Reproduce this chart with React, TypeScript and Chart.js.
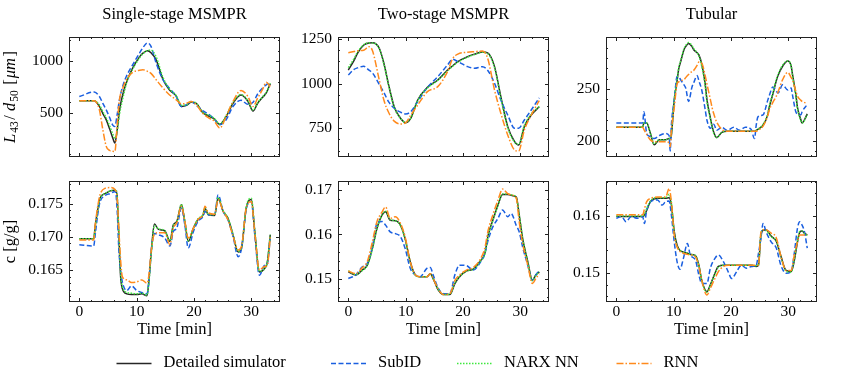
import React, { useEffect, useRef } from "react";
import { Chart, registerables } from "chart.js";

Chart.register(...registerables);

// ---------------- data ----------------
const seriesNames = ["Detailed simulator", "SubID", "NARX NN", "RNN"];
const panelTitles = ["Single-stage MSMPR", "Two-stage MSMPR", "Tubular"];
const xAxisLabel = "Time [min]";
const xTicks = [0, 10, 20, 30];

// Single-stage MSMPR, L43/d50
const t1 = [0, 2.6, 3.5, 4.1, 4.7, 5.3, 5.8, 6.2, 6.6, 7.0, 7.6, 8.2, 9.3, 10.5, 11.1, 11.9, 12.5, 13.4, 14.6, 15.7, 16.9, 17.8, 18.7, 19.5, 20.4, 21.5, 22.7, 23.5, 24.5, 25.6, 26.8, 28.2, 29.4, 30.3, 31.1, 32.0, 32.6, 33.3];
const p1Sim = [615, 615, 560, 490, 430, 340, 260, 205, 330, 520, 680, 790, 930, 1040, 1076, 1100, 1080, 1010, 820, 720, 660, 560, 570, 600, 590, 500, 462, 440, 385, 460, 590, 670, 610, 515, 590, 650, 690, 780];
const p1SubID = [655, 700, 656, 590, 527, 450, 382, 366, 480, 624, 760, 850, 963, 1076, 1130, 1175, 1141, 979, 818, 737, 656, 559, 576, 608, 570, 520, 479, 440, 382, 430, 559, 620, 580, 600, 680, 740, 769, 800];
const p1NARX = [615, 615, 575, 510, 450, 370, 300, 250, 320, 480, 640, 780, 920, 1030, 1070, 1100, 1105, 1040, 840, 730, 665, 570, 575, 605, 590, 505, 470, 445, 390, 470, 600, 675, 615, 525, 595, 655, 695, 785];
const p1RNN = [615, 615, 527, 334, 172, 133, 125, 123, 380, 624, 740, 818, 889, 910, 915, 899, 880, 818, 737, 673, 624, 585, 590, 608, 576, 495, 445, 420, 350, 462, 608, 715, 656, 559, 640, 730, 795, 753];
const p1YTicks = [500, 1000];

// Two-stage MSMPR, L43/d50
const t2 = [0, 1.0, 1.6, 2.7, 3.6, 4.2, 5.4, 6.2, 7.1, 8.0, 9.1, 10.0, 10.9, 12.1, 13.8, 15.6, 17.3, 18.2, 19.1, 20.8, 22.0, 23.4, 24.3, 25.5, 26.6, 27.8, 29.0, 29.7, 30.7, 31.9, 33.3];
const p2Sim = [1076, 1130, 1170, 1216, 1228, 1229, 1198, 1114, 983, 871, 806, 781, 806, 908, 979, 1020, 1076, 1100, 1123, 1151, 1165, 1177, 1172, 1095, 927, 759, 675, 656, 759, 824, 870];
const p2SubID = [1048, 1080, 1088, 1097, 1075, 1060, 995, 950, 895, 862, 840, 830, 843, 899, 979, 1039, 1104, 1136, 1123, 1095, 1086, 1095, 1075, 1002, 908, 824, 750, 750, 796, 852, 920];
const p2NARX = [1090, 1140, 1175, 1218, 1228, 1228, 1195, 1110, 980, 868, 806, 782, 808, 905, 975, 1018, 1072, 1098, 1120, 1148, 1163, 1175, 1168, 1090, 920, 755, 672, 660, 765, 830, 872];
const p2RNN = [1173, 1180, 1184, 1187, 1207, 1185, 1020, 908, 834, 790, 774, 781, 824, 880, 955, 983, 1067, 1140, 1165, 1176, 1179, 1182, 1142, 964, 834, 712, 628, 622, 740, 824, 905];
const p2YTicks = [750, 1000, 1250];

// Tubular, L43/d50
const t3 = [0, 4.6, 4.8, 5.3, 5.9, 6.6, 7.5, 8.6, 9.2, 9.4, 9.6, 10.1, 10.6, 10.9, 11.2, 11.8, 12.1, 12.6, 13.2, 13.5, 14.1, 14.4, 14.9, 15.5, 15.8, 16.4, 16.7, 17.0, 17.5, 18.4, 19.3, 20.5, 21.5, 22.5, 23.5, 24.1, 24.4, 24.7, 25.6, 26.4, 26.7, 27.3, 27.9, 28.2, 29.0, 29.9, 30.5, 30.7, 31.3, 31.6, 32.2, 32.4, 33.3];
const p3Sim = [213, 213, 217, 217, 208, 196, 201, 201, 202, 202, 205, 239, 258, 270, 276, 288, 291, 294, 291, 288, 285, 283, 274, 255, 240, 222, 214, 208, 203, 208, 209, 209, 209, 209, 209, 209, 210, 211, 215, 225, 233, 245, 258, 263, 272, 277, 272, 265, 245, 232, 220, 217, 226];
const p3SubID = [217, 217, 228, 207, 204, 202, 205, 207, 205, 190, 215, 239, 262, 262, 259, 254, 251, 238, 252, 256, 263, 258, 249, 230, 220, 212, 214, 216, 210, 213, 210, 213, 210, 213, 211, 202, 215, 223, 225, 239, 244, 252, 248, 246, 254, 249, 251, 245, 228, 226, 225, 228, 235];
const p3NARX = [213, 213, 217, 217, 208, 197, 201, 201, 202, 203, 206, 240, 259, 271, 277, 289, 292, 295, 292, 289, 285, 282, 272, 253, 238, 221, 213, 207, 203, 208, 209, 209, 209, 209, 209, 209, 210, 211, 216, 226, 234, 246, 259, 264, 273, 277, 272, 264, 244, 231, 219, 217, 225];
const p3RNN = [213, 213, 211, 206, 201, 199, 199, 199, 198, 194, 210, 232, 255, 257, 258, 259, 261, 264, 267, 268, 273, 276, 275, 263, 255, 240, 232, 226, 218, 211, 209, 209, 209, 209, 209, 209, 209, 210, 214, 224, 230, 237, 243, 247, 259, 266, 261, 259, 248, 243, 239, 238, 236];
const p3YTicks = [200, 250];

// Single-stage MSMPR, concentration
const t4 = [0, 2.5, 2.8, 3.2, 3.6, 4.5, 5.4, 6.3, 6.6, 6.9, 7.2, 7.5, 8.3, 9.1, 10.0, 10.9, 11.8, 12.1, 12.6, 13.1, 13.8, 14.9, 15.8, 16.4, 17.0, 17.8, 18.4, 19.0, 19.9, 20.7, 21.6, 21.9, 22.5, 23.6, 24.2, 25.1, 25.9, 26.8, 27.7, 28.3, 29.1, 30.0, 30.6, 31.4, 32.3, 32.8, 33.3];
const p4Sim = [0.1697, 0.1697, 0.1718, 0.1740, 0.1758, 0.1765, 0.1769, 0.1770, 0.1760, 0.1700, 0.1640, 0.1622, 0.1614, 0.1613, 0.1613, 0.1614, 0.1611, 0.1630, 0.1683, 0.1719, 0.1711, 0.1709, 0.1693, 0.1718, 0.1723, 0.1748, 0.1723, 0.1693, 0.1713, 0.1726, 0.1733, 0.1743, 0.1733, 0.1732, 0.1758, 0.1738, 0.1728, 0.1703, 0.1677, 0.1683, 0.1743, 0.1756, 0.1708, 0.1647, 0.1652, 0.1662, 0.1703];
const p4SubID = [0.1688, 0.1686, 0.1705, 0.1733, 0.1752, 0.1762, 0.1765, 0.1768, 0.1740, 0.1680, 0.1650, 0.1632, 0.1619, 0.1626, 0.1619, 0.1616, 0.1614, 0.1630, 0.1683, 0.1705, 0.1703, 0.1698, 0.1686, 0.1708, 0.1713, 0.1743, 0.1718, 0.1683, 0.1708, 0.1723, 0.1731, 0.1738, 0.1733, 0.1733, 0.1763, 0.1738, 0.1726, 0.1701, 0.1670, 0.1683, 0.1741, 0.1753, 0.1703, 0.1642, 0.1657, 0.1660, 0.1698];
const p4NARX = [0.1697, 0.1697, 0.1716, 0.1738, 0.1757, 0.1765, 0.1769, 0.1771, 0.1762, 0.1705, 0.1645, 0.1625, 0.1616, 0.1615, 0.1614, 0.1615, 0.1612, 0.1628, 0.1680, 0.1717, 0.1712, 0.1709, 0.1694, 0.1717, 0.1722, 0.1749, 0.1724, 0.1694, 0.1713, 0.1727, 0.1734, 0.1744, 0.1734, 0.1733, 0.1759, 0.1739, 0.1729, 0.1704, 0.1678, 0.1684, 0.1744, 0.1758, 0.1710, 0.1648, 0.1652, 0.1663, 0.1703];
const p4RNN = [0.1695, 0.1695, 0.1720, 0.1745, 0.1763, 0.1773, 0.1774, 0.1770, 0.1758, 0.1710, 0.1665, 0.1640, 0.1635, 0.1631, 0.1632, 0.1635, 0.1630, 0.1640, 0.1683, 0.1704, 0.1706, 0.1706, 0.1688, 0.1713, 0.1721, 0.1746, 0.1723, 0.1698, 0.1713, 0.1726, 0.1734, 0.1746, 0.1736, 0.1734, 0.1756, 0.1738, 0.1726, 0.1701, 0.1680, 0.1686, 0.1743, 0.1753, 0.1706, 0.1650, 0.1655, 0.1657, 0.1700];
const p4YTicks = [0.165, 0.17, 0.175];

// Two-stage MSMPR, concentration
const t5 = [0, 1.3, 2.4, 3.3, 4.2, 5.0, 5.9, 6.5, 7.3, 8.2, 9.1, 9.9, 10.8, 11.7, 12.5, 13.7, 14.3, 14.8, 15.7, 16.6, 17.7, 18.6, 19.4, 20.6, 21.8, 22.9, 23.8, 24.4, 25.2, 26.1, 26.9, 27.8, 28.4, 29.3, 29.8, 30.4, 31.3, 32.1, 32.7, 33.3];
const p5Sim = [0.1516, 0.1509, 0.1520, 0.1531, 0.1569, 0.1614, 0.1644, 0.1651, 0.1632, 0.1631, 0.1621, 0.1591, 0.1539, 0.1509, 0.1505, 0.1505, 0.1512, 0.1501, 0.1475, 0.1465, 0.1465, 0.1490, 0.1505, 0.1518, 0.1522, 0.1539, 0.1557, 0.1599, 0.1632, 0.1666, 0.1690, 0.1690, 0.1688, 0.1684, 0.1644, 0.1591, 0.1539, 0.1497, 0.1509, 0.1516];
const p5SubID = [0.1501, 0.1509, 0.1527, 0.1535, 0.1572, 0.1625, 0.1629, 0.1621, 0.1606, 0.1602, 0.1595, 0.1569, 0.1524, 0.1509, 0.1505, 0.1524, 0.1526, 0.1509, 0.1479, 0.1467, 0.1467, 0.1510, 0.1531, 0.1530, 0.1520, 0.1535, 0.1557, 0.1588, 0.1617, 0.1636, 0.1655, 0.1640, 0.1647, 0.1620, 0.1606, 0.1572, 0.1531, 0.1497, 0.1509, 0.1520];
const p5NARX = [0.1518, 0.1510, 0.1519, 0.1530, 0.1567, 0.1613, 0.1644, 0.1652, 0.1633, 0.1631, 0.1620, 0.1590, 0.1538, 0.1508, 0.1505, 0.1505, 0.1511, 0.1501, 0.1476, 0.1465, 0.1466, 0.1491, 0.1505, 0.1518, 0.1522, 0.1538, 0.1556, 0.1597, 0.1631, 0.1665, 0.1691, 0.1691, 0.1689, 0.1683, 0.1645, 0.1592, 0.1538, 0.1496, 0.1508, 0.1516];
const p5RNN = [0.1518, 0.1512, 0.1525, 0.1539, 0.1584, 0.1629, 0.1651, 0.1662, 0.1636, 0.1640, 0.1625, 0.1595, 0.1539, 0.1509, 0.1505, 0.1505, 0.1512, 0.1501, 0.1477, 0.1465, 0.1467, 0.1497, 0.1509, 0.1520, 0.1526, 0.1542, 0.1569, 0.1610, 0.1644, 0.1677, 0.1702, 0.1692, 0.1689, 0.1681, 0.1629, 0.1580, 0.1531, 0.1490, 0.1501, 0.1512];
const p5YTicks = [0.15, 0.16, 0.17];

// Tubular, concentration
const t6 = [0, 0.9, 1.7, 2.6, 3.7, 4.6, 4.9, 5.3, 6.0, 7.2, 8.0, 8.6, 9.2, 9.6, 10.1, 10.6, 11.1, 11.7, 12.4, 12.9, 13.8, 14.4, 14.9, 15.8, 16.4, 17.2, 17.8, 18.7, 19.5, 20.1, 21.0, 21.8, 22.7, 23.6, 24.4, 24.8, 25.2, 25.6, 26.1, 27.0, 27.9, 28.7, 29.6, 30.5, 31.0, 31.6, 32.0, 32.4, 32.8, 33.3];
const p6Sim = [0.1599, 0.1599, 0.1599, 0.1599, 0.1599, 0.1599, 0.1601, 0.1610, 0.1626, 0.1631, 0.1631, 0.1631, 0.1632, 0.1620, 0.1573, 0.1549, 0.1540, 0.1537, 0.1535, 0.1533, 0.1531, 0.1514, 0.1488, 0.1468, 0.1480, 0.1500, 0.1512, 0.1514, 0.1514, 0.1514, 0.1514, 0.1514, 0.1514, 0.1514, 0.1512, 0.1514, 0.1565, 0.1575, 0.1576, 0.1565, 0.1556, 0.1530, 0.1505, 0.1503, 0.1520, 0.1555, 0.1572, 0.1574, 0.1570, 0.1567];
const p6SubID = [0.1596, 0.1599, 0.1590, 0.1599, 0.1596, 0.1599, 0.1587, 0.1610, 0.1625, 0.1628, 0.1619, 0.1625, 0.1626, 0.1602, 0.1555, 0.1520, 0.1507, 0.1526, 0.1552, 0.1532, 0.1523, 0.1497, 0.1482, 0.1482, 0.1509, 0.1526, 0.1532, 0.1520, 0.1503, 0.1491, 0.1503, 0.1514, 0.1509, 0.1512, 0.1514, 0.1535, 0.1560, 0.1587, 0.1573, 0.1555, 0.1544, 0.1514, 0.1500, 0.1503, 0.1532, 0.1579, 0.1590, 0.1584, 0.1573, 0.1544];
const p6NARX = [0.1600, 0.1600, 0.1600, 0.1600, 0.1600, 0.1600, 0.1603, 0.1613, 0.1627, 0.1632, 0.1632, 0.1632, 0.1638, 0.1622, 0.1571, 0.1548, 0.1540, 0.1537, 0.1535, 0.1533, 0.1531, 0.1513, 0.1487, 0.1467, 0.1479, 0.1499, 0.1511, 0.1514, 0.1514, 0.1514, 0.1514, 0.1514, 0.1514, 0.1514, 0.1513, 0.1516, 0.1567, 0.1576, 0.1575, 0.1564, 0.1556, 0.1529, 0.1504, 0.1502, 0.1522, 0.1557, 0.1573, 0.1574, 0.1570, 0.1566];
const p6RNN = [0.1602, 0.1602, 0.1602, 0.1602, 0.1602, 0.1602, 0.1612, 0.1625, 0.1631, 0.1633, 0.1633, 0.1633, 0.1648, 0.1625, 0.1567, 0.1546, 0.1538, 0.1535, 0.1533, 0.1532, 0.1529, 0.1512, 0.1488, 0.1462, 0.1474, 0.1491, 0.1503, 0.1512, 0.1514, 0.1514, 0.1514, 0.1514, 0.1514, 0.1514, 0.1514, 0.1514, 0.1570, 0.1576, 0.1576, 0.1570, 0.1562, 0.1530, 0.1505, 0.1505, 0.1530, 0.1555, 0.1567, 0.1567, 0.1567, 0.1567];
const p6YTicks = [0.15, 0.16];

// ---------------- layout & style ----------------
const W = 851;
const H = 373;
const YW = 60; // forced y-axis box width
const XH = 30; // forced x-axis box height
const X_MIN = -1.8;
const X_MAX = 35.0;
const SERIF = '"Liberation Serif", "Times New Roman", "DejaVu Serif", serif';
const TICK_FONT = 15.5;
const LABEL_FONT = 16.5;
const LEGEND_FONT = 16.5;

const STYLE = [
  { color: "#262626", dash: [] as number[], order: 4 },
  { color: "#1a5fe0", dash: [5, 2.5], order: 3 },
  { color: "#3ee83e", dash: [1.5, 1.5], order: 2 },
  { color: "#ff8a1c", dash: [7, 2, 1.5, 2], order: 1 },
];

const COL_X = [
  { left: 69, right: 280 },
  { left: 338, right: 549 },
  { left: 606, right: 817 },
];
const ROW_Y = [
  { top: 37, bottom: 157 },
  { top: 181, bottom: 302 },
];

type PanelCfg = {
  col: number;
  row: number;
  t: number[];
  series: number[][];
  yMin: number;
  yMax: number;
  yTicks: number[];
  yMinor: number;
  dec: number;
};

const PANELS: PanelCfg[] = [
  { col: 0, row: 0, t: t1, series: [p1Sim, p1SubID, p1NARX, p1RNN], yMin: 70, yMax: 1232, yTicks: p1YTicks, yMinor: 100, dec: 0 },
  { col: 1, row: 0, t: t2, series: [p2Sim, p2SubID, p2NARX, p2RNN], yMin: 589, yMax: 1261, yTicks: p2YTicks, yMinor: 62.5, dec: 0 },
  { col: 2, row: 0, t: t3, series: [p3Sim, p3SubID, p3NARX, p3RNN], yMin: 184.2, yMax: 300.3, yTicks: p3YTicks, yMinor: 10, dec: 0 },
  { col: 0, row: 1, t: t4, series: [p4Sim, p4SubID, p4NARX, p4RNN], yMin: 0.16017, yMax: 0.17839, yTicks: p4YTicks, yMinor: 0.001, dec: 3 },
  { col: 1, row: 1, t: t5, series: [p5Sim, p5SubID, p5NARX, p5RNN], yMin: 0.14483, yMax: 0.17202, yTicks: p5YTicks, yMinor: 0.002, dec: 2 },
  { col: 2, row: 1, t: t6, series: [p6Sim, p6SubID, p6NARX, p6RNN], yMin: 0.14499, yMax: 0.16611, yTicks: p6YTicks, yMinor: 0.002, dec: 2 },
];

// ---------------- plugins ----------------
const frameTicks = {
  id: "frameTicks",
  afterDatasetsDraw(chart: any, _args: any, o: any) {
    const { ctx, chartArea: a } = chart;
    const xs = chart.scales.x;
    const ys = chart.scales.y;
    const isMajor = (v: number, majors: number[], step: number) =>
      majors.some((m) => Math.abs(m - v) < step * 1e-3);
    const minors = (min: number, max: number, step: number) => {
      const out: number[] = [];
      for (let k = Math.ceil(min / step - 1e-9); k * step <= max + step * 1e-9; k++) out.push(k * step);
      return out;
    };
    ctx.save();
    ctx.strokeStyle = "#222";
    ctx.lineWidth = 1;
    ctx.setLineDash([]);
    ctx.beginPath();
    const vx = (v: number, len: number) => {
      const p = Math.round(xs.getPixelForValue(v)) + 0.5;
      ctx.moveTo(p, a.bottom);
      ctx.lineTo(p, a.bottom - len);
      ctx.moveTo(p, a.top);
      ctx.lineTo(p, a.top + len);
    };
    const hy = (v: number, len: number) => {
      const p = Math.round(ys.getPixelForValue(v)) + 0.5;
      ctx.moveTo(a.left, p);
      ctx.lineTo(a.left + len, p);
      ctx.moveTo(a.right, p);
      ctx.lineTo(a.right - len, p);
    };
    o.xMajor.forEach((v: number) => vx(v, 4));
    minors(xs.min, xs.max, o.xMinor).forEach((v) => {
      if (!isMajor(v, o.xMajor, o.xMinor)) vx(v, 2);
    });
    o.yMajor.forEach((v: number) => hy(v, 4));
    minors(ys.min, ys.max, o.yMinor).forEach((v) => {
      if (!isMajor(v, o.yMajor, o.yMinor)) hy(v, 2);
    });
    ctx.stroke();
    ctx.strokeRect(a.left + 0.5, a.top + 0.5, a.right - a.left - 1, a.bottom - a.top - 1);
    ctx.restore();
  },
};

type Part = { t: string; it?: boolean; sub?: boolean; gap?: number };

function drawRotatedRich(ctx: CanvasRenderingContext2D, parts: Part[], cx: number, cy: number, size: number) {
  const subSize = size * 0.7;
  const fontOf = (p: Part) => `${p.it ? "italic " : ""}${p.sub ? subSize : size}px ${SERIF}`;
  let total = 0;
  const widths = parts.map((p) => {
    ctx.font = fontOf(p);
    const w = ctx.measureText(p.t).width + (p.gap || 0);
    total += w;
    return w;
  });
  ctx.save();
  ctx.translate(cx, cy);
  ctx.rotate(-Math.PI / 2);
  ctx.textAlign = "left";
  ctx.textBaseline = "alphabetic";
  let x = -total / 2;
  const base = size * 0.35;
  parts.forEach((p, i) => {
    ctx.font = fontOf(p);
    ctx.fillText(p.t, x, base + (p.sub ? size * 0.22 : 0));
    x += widths[i];
  });
  ctx.restore();
}

const yLabelSize: Part[] = [
  { t: "L", it: true, gap: 1 },
  { t: "43", sub: true, gap: 1.5 },
  { t: "/ " },
  { t: "d", it: true, gap: 1 },
  { t: "50", sub: true, gap: 1.5 },
  { t: " [", gap: 1 },
  { t: "μm", it: true, gap: 1.5 },
  { t: "]" },
];
const yLabelConc: Part[] = [{ t: "c [g/g]" }];

const LEGEND_X = [116.5, 331, 457, 616.5];

const figureText = {
  id: "figureText",
  afterDraw(chart: any) {
    const ctx: CanvasRenderingContext2D = chart.ctx;
    ctx.save();
    ctx.fillStyle = "#000";
    ctx.textAlign = "center";
    ctx.textBaseline = "middle";
    ctx.font = `${LABEL_FONT}px ${SERIF}`;
    COL_X.forEach((c, i) => {
      const cx = (c.left + c.right) / 2;
      ctx.fillText(panelTitles[i], cx, 15);
      ctx.fillText(xAxisLabel, cx, 330);
    });
    drawRotatedRich(ctx, yLabelSize, 9, (ROW_Y[0].top + ROW_Y[0].bottom) / 2, LABEL_FONT);
    drawRotatedRich(ctx, yLabelConc, 9, (ROW_Y[1].top + ROW_Y[1].bottom) / 2, LABEL_FONT);

    // legend
    const ly = 363;
    ctx.textAlign = "left";
    ctx.font = `${LEGEND_FONT}px ${SERIF}`;
    seriesNames.forEach((name, i) => {
      const x0 = LEGEND_X[i];
      ctx.save();
      ctx.strokeStyle = STYLE[i].color;
      ctx.lineWidth = 1.5;
      ctx.setLineDash(STYLE[i].dash);
      ctx.beginPath();
      ctx.moveTo(x0, ly + 0.5);
      ctx.lineTo(x0 + 35, ly + 0.5);
      ctx.stroke();
      ctx.restore();
      ctx.fillText(name, x0 + 47, ly);
    });
    ctx.restore();
  },
};

// ---------------- components ----------------
function Panel({ cfg, withFigure }: { cfg: PanelCfg; withFigure: boolean }) {
  const ref = useRef<HTMLCanvasElement>(null);
  useEffect(() => {
    const canvas = ref.current;
    if (!canvas) return;
    const col = COL_X[cfg.col];
    const row = ROW_Y[cfg.row];
    const showX = cfg.row === 1;
    const datasets = cfg.series.map((vals, i) => ({
      label: seriesNames[i],
      data: cfg.t.map((x, k) => ({ x, y: vals[k] })),
      borderColor: STYLE[i].color,
      backgroundColor: STYLE[i].color,
      borderDash: STYLE[i].dash,
      borderWidth: 1.5,
      pointRadius: 0,
      fill: false,
      cubicInterpolationMode: "monotone" as const,
      order: STYLE[i].order,
    }));
    const chart = new Chart(canvas, {
      type: "line",
      data: { datasets },
      options: {
        responsive: false,
        animation: false,
        events: [],
        layout: {
          padding: {
            left: col.left - YW,
            right: W - col.right,
            top: row.top,
            bottom: H - row.bottom - XH,
          },
        },
        plugins: {
          legend: { display: false },
          tooltip: { enabled: false },
          title: { display: false },
          frameTicks: { xMajor: xTicks, xMinor: 2, yMajor: cfg.yTicks, yMinor: cfg.yMinor },
        } as any,
        scales: {
          x: {
            type: "linear",
            min: X_MIN,
            max: X_MAX,
            grid: { display: false, drawTicks: false },
            border: { display: false },
            ticks: {
              display: showX,
              color: "#000",
              font: { family: SERIF, size: TICK_FONT },
              padding: 1,
              autoSkip: false,
              maxRotation: 0,
            },
            afterBuildTicks: (s: any) => {
              s.ticks = xTicks.map((v) => ({ value: v }));
            },
            afterFit: (s: any) => {
              s.height = XH;
            },
          },
          y: {
            type: "linear",
            min: cfg.yMin,
            max: cfg.yMax,
            grid: { display: false, drawTicks: false },
            border: { display: false },
            ticks: {
              color: "#000",
              font: { family: SERIF, size: TICK_FONT },
              padding: 6,
              autoSkip: false,
              callback: (v: any) => Number(v).toFixed(cfg.dec),
            },
            afterBuildTicks: (s: any) => {
              s.ticks = cfg.yTicks.map((v) => ({ value: v }));
            },
            afterFit: (s: any) => {
              s.width = YW;
            },
          },
        },
      } as any,
      plugins: withFigure ? [frameTicks, figureText] : [frameTicks],
    });
    return () => chart.destroy();
  }, [cfg, withFigure]);
  return (
    <canvas
      ref={ref}
      width={W}
      height={H}
      style={{ position: "absolute", left: 0, top: 0, width: W, height: H }}
    />
  );
}

export default function App() {
  return (
    <div style={{ position: "fixed", left: 0, top: 0, width: W, height: H, background: "#fff", overflow: "hidden" }}>
      {PANELS.map((p, i) => (
        <Panel key={i} cfg={p} withFigure={i === 0} />
      ))}
    </div>
  );
}
